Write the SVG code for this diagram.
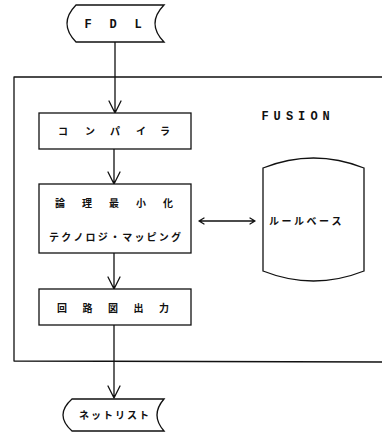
<svg xmlns="http://www.w3.org/2000/svg" width="382" height="434" viewBox="0 0 382 434">
<style>
.s{fill:none;stroke:#111;stroke-width:1.3;stroke-linejoin:round;stroke-linecap:round}
.b{fill:#fff;stroke:#111;stroke-width:1.3}
.j{font-family:"Noto Sans CJK JP","Noto Sans",sans-serif;font-weight:bold;font-size:10px;fill:#111;text-anchor:middle}
.m{font-family:"Liberation Mono","DejaVu Sans Mono",monospace;font-weight:bold;font-size:12px;fill:#111;text-anchor:middle}
</style>
<rect width="382" height="434" fill="#fff"/>
<g id="frame">
<path class="s" d="M385,77 L14,77 L14,361 L385,362"/>
<text class="m" x="265 277 289.5 301.5 314 326" y="120">FUSION</text>
</g>
<g id="connectors">
<path class="s" d="M115,42 V113 M109,101 L115,113 L121,101"/>
<path class="s" d="M114,149 V184 M108,172 L114,184 L120,172"/>
<path class="s" d="M114,253 V289 M108,277 L114,289 L120,277"/>
<path class="s" d="M114,325 V398 M108,386 L114,398 L120,386"/>
<path class="s" d="M199,221 H255 M204,218 L199,221 L204,224 M250,218 L255,221 L250,224"/>
</g>
<g id="fdl">
<path class="b" d="M76,5 Q58,23.5 76,42 L164,42 Q146,23.5 164,5 Z"/>
<text class="m" x="88 113 138" y="28">FDL</text>
</g>
<g id="compiler">
<rect class="b" x="39" y="113" width="152" height="36"/>
<text class="j" x="63 90 115 141 165" y="135">コンパイラ</text>
</g>
<g id="logic">
<rect class="b" x="39" y="184" width="152" height="69"/>
<text class="j" x="60 87 114 141 168" y="207">論理最小化</text>
<text class="j" x="54 66.2 78.4 90.6 102.8 115 127.2 139.4 151.6 163.8 176" y="241">テクノロジ・マッピング</text>
</g>
<g id="output">
<rect class="b" x="39" y="289" width="152" height="36"/>
<text class="j" x="62 87.5 113 138.5 164" y="312">回路図出力</text>
</g>
<g id="rulebase">
<path class="b" d="M263,168 Q313.5,148 364,168 L364,271 Q313.5,291 263,271 Z"/>
<text class="j" x="274 286.5 299 311.5 324 336.5 349" y="225">ルールベース</text>
</g>
<g id="netlist">
<path class="b" d="M72,399 Q54,415 72,431 L164,431 Q150,415 164,399 Z"/>
<text class="j" x="84 96 108 120 132 144" y="419">ネットリスト</text>
</g>
</svg>
